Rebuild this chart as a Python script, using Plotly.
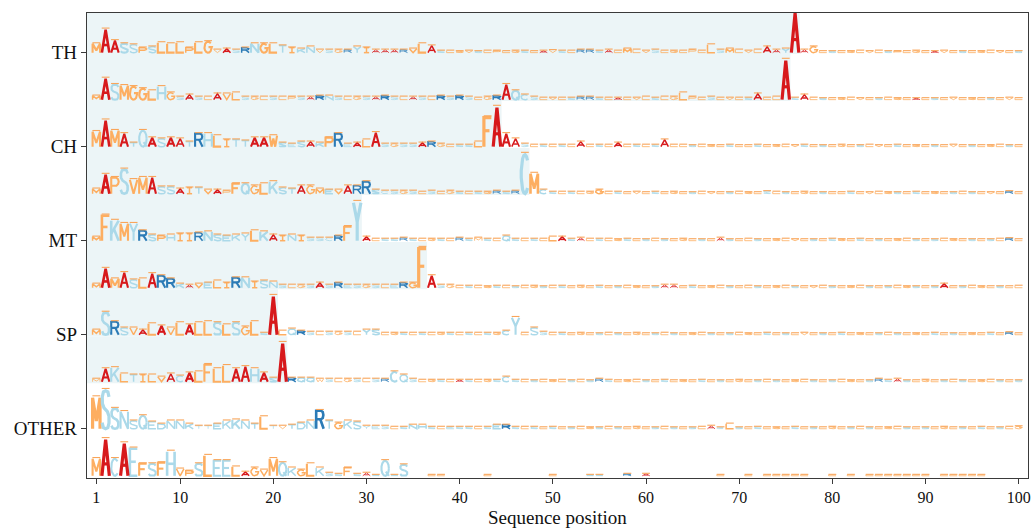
import numpy as np
import plotly.graph_objects as go

# ---------------------------------------------------------------------------
# Data: per-position dominant residue and its information content (bits)
# ---------------------------------------------------------------------------
POSITIONS = list(range(1, 101))
GROUP_LABELS = ["TH", "CH", "MT", "SP", "OTHER"]
GROUP_TICKS = [9, 7, 5, 3, 1]

# last residue of the signal region for each logo row (None = no signal)
CLEAVAGE_SITE = [76, 75, 44, 47, 29, 36, 20, 21, None, None]

SEQ_TH_1 = ("MAASSPSLLL" "PLGVASRNGL" "TIKNVSGRYI" "AAARVLASLG" "VSLPLGSLAV"
            "SLRRSALMLV" "SLGLPLLSML" "VLAAYAAGLS" "LGLVLSPLGL" "AVLSLGLVLS")
BITS_TH_1 = [0.9, 2.3, 1.2, 0.9, 0.8, 0.5, 0.6, 1.0, 0.9, 1.0,
             0.5, 1.0, 1.1, 0.3, 0.4, 0.3, 0.5, 0.9, 0.9, 0.9,
             0.7, 0.5, 0.4, 0.6, 0.3, 0.3, 0.3, 0.3, 0.6, 0.5,
             0.3, 0.3, 0.3, 0.3, 0.4, 0.9, 0.7, 0.2, 0.2, 0.15,
             0.2, 0.15, 0.2, 0.2, 0.15, 0.2, 0.2, 0.15, 0.2, 0.25,
             0.2, 0.2, 0.3, 0.3, 0.2, 0.3, 0.2, 0.4, 0.3, 0.2,
             0.3, 0.2, 0.2, 0.2, 0.3, 0.2, 0.8, 0.3, 0.4, 0.3,
             0.2, 0.3, 0.6, 0.3, 0.4, 3.95, 0.3, 0.6, 0.15, 0.15,
             0.15, 0.15, 0.2, 0.15, 0.2, 0.15, 0.15, 0.15, 0.2, 0.15,
             0.15, 0.2, 0.15, 0.15, 0.15, 0.15, 0.2, 0.15, 0.15, 0.15]

SEQ_TH_2 = ("MASMGGLHGS" "ASLAVLSGLS" "LPSARNSLGS" "ARSLASLRSR" "SLGRAQCSLV"
            "LSRRSLALVL" "SLGLPLSLVL" "SALLASALSL" "GLVLSLGLAL" "SLVLGLSLVL")
BITS_TH_2 = [0.4, 2.1, 1.5, 1.4, 1.3, 1.1, 0.9, 1.3, 0.7, 0.3,
             0.5, 0.3, 0.3, 0.6, 0.6, 0.7, 0.3, 0.3, 0.3, 0.3,
             0.3, 0.3, 0.3, 0.3, 0.4, 0.4, 0.3, 0.3, 0.3, 0.3,
             0.3, 0.4, 0.3, 0.3, 0.3, 0.3, 0.3, 0.4, 0.3, 0.4,
             0.3, 0.2, 0.3, 0.4, 1.5, 0.9, 0.5, 0.3, 0.2, 0.2,
             0.2, 0.2, 0.3, 0.3, 0.2, 0.2, 0.2, 0.2, 0.2, 0.3,
             0.2, 0.3, 0.3, 0.7, 0.3, 0.2, 0.3, 0.2, 0.2, 0.2,
             0.2, 0.6, 0.2, 0.3, 3.9, 0.2, 0.5, 0.2, 0.15, 0.15,
             0.15, 0.2, 0.15, 0.15, 0.15, 0.2, 0.15, 0.15, 0.15, 0.15,
             0.15, 0.15, 0.2, 0.15, 0.15, 0.15, 0.15, 0.15, 0.2, 0.15]

SEQ_CH_1 = ("MAMATQASAA" "TRHLITTAAW" "SESAKPREAL" "ASGSSARGLS" "SLFAAASLSL"
            "SLALSLALSL" "SALLSLGLSL" "LSLGLVSLSL" "GLSLVLSLGL" "SLVLSLGLSL")
BITS_CH_1 = [1.5, 2.6, 1.6, 1.3, 0.4, 1.6, 0.9, 0.8, 0.9, 0.8,
             0.5, 1.3, 1.3, 1.1, 0.7, 0.7, 0.6, 0.9, 0.9, 1.1,
             0.4, 0.3, 0.5, 0.5, 0.4, 0.9, 1.3, 0.3, 0.4, 0.7,
             1.4, 0.3, 0.3, 0.3, 0.3, 0.4, 0.5, 0.3, 0.2, 0.2,
             0.2, 0.5, 2.9, 3.9, 1.3, 0.8, 0.3, 0.2, 0.2, 0.2,
             0.2, 0.2, 0.5, 0.2, 0.2, 0.2, 0.4, 0.2, 0.2, 0.2,
             0.2, 0.7, 0.2, 0.2, 0.15, 0.2, 0.15, 0.15, 0.2, 0.15,
             0.15, 0.2, 0.15, 0.15, 0.2, 0.15, 0.2, 0.15, 0.15, 0.15,
             0.2, 0.15, 0.15, 0.2, 0.15, 0.15, 0.2, 0.15, 0.15, 0.15,
             0.15, 0.15, 0.2, 0.15, 0.15, 0.15, 0.15, 0.2, 0.15, 0.15]

SEQ_CH_2 = ("MAPSVMASSA" "ITVAPFQGLK" "STAGMEVARR" "SCSGSLSLGS" "LSGRSRCMCS"
            "LSLGGLSLVL" "SLGLSLVLSL" "GLSLSLGLSL" "LSLVLGSLSL" "GLSLSLVLRL")
BITS_CH_2 = [0.5, 1.9, 1.6, 2.4, 1.4, 1.6, 1.6, 0.7, 0.7, 0.5,
             0.6, 0.6, 0.4, 0.4, 0.3, 1.0, 1.0, 0.8, 1.0, 1.2,
             0.6, 0.5, 0.8, 0.8, 0.5, 0.4, 0.4, 0.8, 0.8, 1.2,
             0.4, 0.3, 0.3, 0.3, 0.3, 0.2, 0.3, 0.2, 0.3, 0.2,
             0.2, 0.2, 0.2, 0.3, 0.2, 0.3, 3.9, 2.0, 0.4, 0.2,
             0.2, 0.2, 0.2, 0.2, 0.4, 0.2, 0.2, 0.15, 0.2, 0.15,
             0.2, 0.15, 0.2, 0.15, 0.15, 0.2, 0.15, 0.15, 0.15, 0.2,
             0.15, 0.15, 0.25, 0.2, 0.15, 0.15, 0.2, 0.15, 0.15, 0.15,
             0.15, 0.2, 0.15, 0.15, 0.2, 0.15, 0.15, 0.15, 0.2, 0.15,
             0.15, 0.15, 0.15, 0.2, 0.15, 0.15, 0.15, 0.15, 0.25, 0.15]

SEQ_MT_1 = ("MFKMYRSPHI" "IRNSEKYLKA" "INISSCRFYA" "LSSRSLGSLR" "SMSLQSLSLL"
            "ASALSLGSLS" "LSLGLSLASL" "LSLGLVLSLS" "GLSLSLGLSL" "SLGLSLSLRL")
BITS_MT_1 = [0.4, 2.5, 2.0, 1.7, 1.7, 1.0, 0.6, 0.5, 0.6, 0.7,
             0.7, 0.8, 0.9, 0.6, 0.5, 0.6, 0.7, 1.0, 0.9, 0.6,
             0.5, 0.6, 0.5, 0.3, 0.3, 0.3, 0.5, 1.4, 3.8, 0.4,
             0.2, 0.2, 0.2, 0.3, 0.2, 0.2, 0.2, 0.2, 0.2, 0.3,
             0.2, 0.3, 0.2, 0.2, 0.5, 0.2, 0.2, 0.2, 0.2, 0.4,
             0.4, 0.2, 0.3, 0.2, 0.2, 0.2, 0.15, 0.2, 0.15, 0.15,
             0.2, 0.15, 0.15, 0.2, 0.15, 0.15, 0.15, 0.3, 0.15, 0.15,
             0.2, 0.15, 0.15, 0.15, 0.2, 0.15, 0.15, 0.15, 0.15, 0.2,
             0.15, 0.15, 0.2, 0.15, 0.15, 0.15, 0.15, 0.2, 0.15, 0.15,
             0.15, 0.2, 0.15, 0.15, 0.15, 0.15, 0.15, 0.2, 0.25, 0.15]

SEQ_MT_2 = ("MAMASLARRK" "AVELIRNISN" "SLGSASRESG" "SLERGFASGL" "SLGSLSLGSL"
            "SLGLSLSLGL" "SAALSLGLSL" "LSLGLSLVLS" "LGLSLSLGSL" "SALSLGLSLL")
BITS_MT_2 = [0.4, 1.9, 0.9, 1.5, 0.8, 0.9, 1.4, 1.2, 0.9, 0.4,
             0.3, 0.4, 0.5, 0.7, 0.5, 1.0, 1.0, 0.6, 0.7, 0.6,
             0.3, 0.3, 0.3, 0.3, 0.5, 0.3, 0.5, 0.3, 0.3, 0.3,
             0.3, 0.3, 0.3, 0.5, 0.5, 3.9, 1.2, 0.3, 0.3, 0.2,
             0.2, 0.2, 0.15, 0.2, 0.2, 0.15, 0.2, 0.2, 0.15, 0.2,
             0.2, 0.15, 0.2, 0.15, 0.2, 0.15, 0.15, 0.2, 0.15, 0.15,
             0.15, 0.3, 0.3, 0.15, 0.2, 0.15, 0.15, 0.2, 0.15, 0.15,
             0.2, 0.15, 0.15, 0.15, 0.2, 0.15, 0.15, 0.15, 0.2, 0.15,
             0.15, 0.15, 0.2, 0.15, 0.15, 0.15, 0.2, 0.15, 0.15, 0.15,
             0.15, 0.4, 0.15, 0.15, 0.2, 0.15, 0.15, 0.15, 0.15, 0.2]

SEQ_SP_1 = ("MSRSVALAVL" "ALLSLSGLSA" "LQRSLSGSLY" "SLGSLSLGSL" "SLSGCYLSSL"
            "SLGLSLSLGL" "SLSLGLSLSL" "GLSLSLVLSL" "SLGLSLSLGL" "SLSLGLSLRL")
BITS_SP_1 = [0.5, 2.2, 1.3, 0.7, 0.7, 0.5, 1.1, 0.9, 0.7, 1.2,
             1.0, 1.2, 1.3, 1.2, 1.0, 1.2, 0.8, 1.3, 0.2, 3.8,
             0.4, 0.6, 0.4, 0.3, 0.3, 0.3, 0.3, 0.3, 0.3, 0.5,
             0.5, 0.2, 0.2, 0.2, 0.2, 0.2, 0.2, 0.2, 0.2, 0.2,
             0.2, 0.2, 0.2, 0.2, 0.4, 1.7, 0.2, 0.7, 0.3, 0.2,
             0.2, 0.15, 0.2, 0.15, 0.15, 0.2, 0.15, 0.15, 0.2, 0.15,
             0.15, 0.2, 0.15, 0.15, 0.15, 0.2, 0.15, 0.15, 0.15, 0.2,
             0.15, 0.15, 0.2, 0.15, 0.15, 0.15, 0.2, 0.15, 0.15, 0.15,
             0.2, 0.15, 0.15, 0.15, 0.15, 0.2, 0.15, 0.15, 0.15, 0.15,
             0.2, 0.15, 0.15, 0.15, 0.15, 0.15, 0.2, 0.15, 0.25, 0.15]

SEQ_SP_2 = ("MAKLTILVAC" "ALFLLAAHAS" "ARQQWSLGSL" "SRCQSLGSLA" "SLGSCSLSLG"
            "LSLSRSLGLS" "LSLGLSLSLG" "LSLSLGLSLS" "LGLSRSASLG" "LSLSLGLSLS")
BITS_SP_2 = [0.3, 1.3, 1.4, 0.8, 0.7, 0.7, 0.7, 0.5, 0.8, 0.6,
             0.9, 1.0, 1.7, 1.3, 1.6, 1.3, 1.5, 1.3, 0.9, 0.4,
             3.8, 0.4, 0.4, 0.4, 0.3, 0.3, 0.3, 0.3, 0.3, 0.3,
             0.3, 0.3, 1.0, 0.7, 0.3, 0.2, 0.2, 0.2, 0.2, 0.2,
             0.2, 0.2, 0.2, 0.2, 0.5, 0.2, 0.2, 0.15, 0.2, 0.15,
             0.2, 0.15, 0.2, 0.15, 0.3, 0.2, 0.15, 0.15, 0.2, 0.15,
             0.15, 0.2, 0.15, 0.15, 0.15, 0.2, 0.15, 0.15, 0.15, 0.2,
             0.15, 0.15, 0.2, 0.15, 0.15, 0.15, 0.2, 0.15, 0.15, 0.15,
             0.2, 0.15, 0.15, 0.15, 0.3, 0.2, 0.3, 0.15, 0.15, 0.2,
             0.15, 0.15, 0.2, 0.15, 0.15, 0.15, 0.2, 0.15, 0.15, 0.15]

SEQ_OTHER_1 = ("MSSNSQEDNN" "KTTEKKNTLT" "VTDNRTGKSY" "ESLSNHSLES" "SLSERSLSLS"
               "LSLGSLSLGL" "SLSLSLACLS" "LSLGLSLSLG" "LSLSLGLSLS" "LGLSLSLSLG")
BITS_OTHER_1 = [3.1, 3.8, 2.0, 1.7, 0.8, 1.3, 0.7, 0.5, 0.8, 0.8,
                0.5, 0.3, 0.3, 0.5, 0.8, 0.9, 0.8, 0.5, 1.2, 0.3,
                0.3, 0.4, 0.6, 0.8, 1.8, 0.8, 0.6, 0.8, 0.7, 0.3,
                0.3, 0.3, 0.2, 0.2, 0.4, 0.4, 0.2, 0.2, 0.2, 0.2,
                0.2, 0.2, 0.2, 0.4, 0.4, 0.2, 0.2, 0.2, 0.15, 0.2,
                0.15, 0.15, 0.2, 0.15, 0.15, 0.2, 0.15, 0.15, 0.2, 0.15,
                0.15, 0.2, 0.15, 0.15, 0.15, 0.2, 0.3, 0.15, 0.5, 0.15,
                0.15, 0.2, 0.15, 0.15, 0.15, 0.2, 0.15, 0.15, 0.15, 0.2,
                0.15, 0.15, 0.2, 0.15, 0.15, 0.15, 0.2, 0.15, 0.15, 0.15,
                0.15, 0.2, 0.15, 0.15, 0.15, 0.2, 0.15, 0.15, 0.2, 0.25]

# '-' marks positions where no residues are aligned
SEQ_OTHER_2 = ("MACAEFSFHV" "PSLEELAGVM" "QKGLKSSFSA" "SQSS--LL--" "--L------L"
               "---SS--R-A" "-------L--" "L-LLLLL--L" "-L-LLLLLLL" "-LLLLL----")
BITS_OTHER_2 = [1.7, 3.6, 1.7, 3.2, 2.7, 1.2, 1.2, 1.3, 2.4, 0.7,
                0.5, 1.2, 2.0, 1.5, 1.5, 0.9, 0.4, 0.8, 0.6, 1.7,
                1.3, 0.8, 0.6, 1.2, 0.8, 0.3, 0.2, 0.8, 0.2, 0.3,
                0.1, 1.5, 0.1, 1.1, 0, 0, 0.1, 0.1, 0, 0,
                0, 0, 0.1, 0, 0, 0, 0, 0, 0, 0.1,
                0, 0, 0, 0.1, 0.1, 0, 0, 0.2, 0, 0.2,
                0, 0, 0, 0, 0, 0, 0, 0.1, 0, 0,
                0.1, 0, 0.1, 0.1, 0.1, 0.1, 0.1, 0, 0, 0.1,
                0, 0.1, 0, 0.1, 0.1, 0.1, 0.1, 0.1, 0.1, 0.1,
                0, 0.1, 0.1, 0.1, 0.1, 0.1, 0, 0, 0, 0]

LOGO_ROWS = [(SEQ_TH_1, BITS_TH_1), (SEQ_TH_2, BITS_TH_2),
             (SEQ_CH_1, BITS_CH_1), (SEQ_CH_2, BITS_CH_2),
             (SEQ_MT_1, BITS_MT_1), (SEQ_MT_2, BITS_MT_2),
             (SEQ_SP_1, BITS_SP_1), (SEQ_SP_2, BITS_SP_2),
             (SEQ_OTHER_1, BITS_OTHER_1), (SEQ_OTHER_2, BITS_OTHER_2)]

# ---------------------------------------------------------------------------
# Style
# ---------------------------------------------------------------------------
BITS_PER_ROW = 4.7          # vertical extent of one logo row, in bits
ROW_PX = 47.0               # approximate pixel height of one logo row
GLYPH_WIDTH = 0.8           # letter width in sequence-position units
RED, BLUE, ORANGE, LIGHTBLUE = "#d7191c", "#2c7bb6", "#fdae61", "#abd9e9"
CAP_COLOR = "#f9a55a"
SHADE_COLOR = "#ecf5f7"
FONT = "Liberation Serif"

RESIDUE_COLOR = {}
for aa in "A":
    RESIDUE_COLOR[aa] = RED
for aa in "R":
    RESIDUE_COLOR[aa] = BLUE
for aa in "MLIVFWGP":
    RESIDUE_COLOR[aa] = ORANGE
for aa in "STNQYHKEDC":
    RESIDUE_COLOR[aa] = LIGHTBLUE


def arc(cx, cy, rx, ry, a0, a1, n=14):
    t = np.radians(np.linspace(a0, a1, n))
    return list(zip(cx + rx * np.cos(t), cy + ry * np.sin(t)))


# stroke outlines of the residue letters in a unit box
GLYPHS = {
    "A": [[(0, 0), (0.5, 1), (1, 0)], [(0.22, 0.33), (0.78, 0.33)]],
    "R": [[(0, 0), (0, 1), (0.65, 1), (0.88, 0.93), (0.96, 0.77), (0.88, 0.6),
           (0.65, 0.53), (0, 0.53)], [(0.55, 0.53), (1, 0)]],
    "S": [[(0.95, 0.84), (0.8, 0.97), (0.5, 1), (0.2, 0.97), (0.05, 0.84),
           (0.07, 0.66), (0.28, 0.55), (0.74, 0.45), (0.95, 0.33),
           (0.95, 0.15), (0.8, 0.03), (0.5, 0), (0.2, 0.03), (0.03, 0.16)]],
    "L": [[(0, 1), (0, 0), (1, 0)]],
    "M": [[(0, 0), (0, 1), (0.5, 0.25), (1, 1), (1, 0)]],
    "F": [[(0, 0), (0, 1), (1, 1)], [(0, 0.55), (0.75, 0.55)]],
    "I": [[(0.5, 0), (0.5, 1)], [(0.15, 0), (0.85, 0)], [(0.15, 1), (0.85, 1)]],
    "V": [[(0, 1), (0.5, 0), (1, 1)]],
    "G": [arc(0.5, 0.5, 0.5, 0.5, 45, 360) + [(0.55, 0.5)]],
    "C": [arc(0.5, 0.5, 0.5, 0.5, 45, 315)],
    "Q": [arc(0.5, 0.5, 0.5, 0.5, 0, 360), [(0.6, 0.28), (1, 0)]],
    "D": [[(0.45, 0), (0, 0), (0, 1), (0.45, 1)] + arc(0.45, 0.5, 0.55, 0.5, 90, -90)],
    "P": [[(0, 0), (0, 1), (0.7, 1), (0.92, 0.9), (1, 0.75), (0.92, 0.6),
           (0.7, 0.5), (0, 0.5)]],
    "W": [[(0, 1), (0.25, 0), (0.5, 0.75), (0.75, 0), (1, 1)]],
    "T": [[(0, 1), (1, 1)], [(0.5, 1), (0.5, 0)]],
    "N": [[(0, 0), (0, 1), (1, 0), (1, 1)]],
    "Y": [[(0, 1), (0.5, 0.5), (1, 1)], [(0.5, 0.5), (0.5, 0)]],
    "H": [[(0, 0), (0, 1)], [(1, 0), (1, 1)], [(0, 0.5), (1, 0.5)]],
    "K": [[(0, 0), (0, 1)], [(1, 1), (0, 0.35)], [(0.35, 0.6), (1, 0)]],
    "E": [[(1, 1), (0, 1), (0, 0), (1, 0)], [(0, 0.52), (0.8, 0.52)]],
}

# ---------------------------------------------------------------------------
# Build the figure
# ---------------------------------------------------------------------------
fig = go.Figure()
n_rows = len(LOGO_ROWS)
shapes = []
for r, site in enumerate(CLEAVAGE_SITE):
    if site is None:
        continue
    base = n_rows - 1 - r
    shapes.append(dict(type="rect", xref="x", yref="y", layer="below",
                       x0=0, x1=site + 0.5, y0=base - 0.03, y1=base + 0.97,
                       fillcolor=SHADE_COLOR, line=dict(width=0)))

# letters grouped by colour and stroke weight
groups = {}
cap_x, cap_y = [], []
for r, (seq, bits) in enumerate(LOGO_ROWS):
    base = n_rows - 1 - r
    for pos, aa, h in zip(POSITIONS, seq, bits):
        if aa == "-" or h <= 0:
            continue
        hh = h / BITS_PER_ROW
        px_h = hh * ROW_PX
        if px_h < 3:
            weight = 0.8
        elif px_h < 9:
            weight = 1.5
        elif px_h < 18:
            weight = 2.1
        elif px_h < 28:
            weight = 2.6
        else:
            weight = 3.2
        key = (RESIDUE_COLOR[aa], weight)
        gx, gy = groups.setdefault(key, ([], []))
        for stroke in GLYPHS[aa]:
            for u, v in stroke:
                gx.append(pos - GLYPH_WIDTH / 2 + u * GLYPH_WIDTH)
                gy.append(base + v * hh)
            gx.append(None)
            gy.append(None)
        # small error-bar cap just above each column
        top = base + hh + (0.04 + 0.05 * h) / BITS_PER_ROW
        cap_x += [pos - 0.42, pos + 0.42, None]
        cap_y += [top, top, None]

for (color, weight), (gx, gy) in sorted(groups.items(), key=lambda kv: kv[0][1]):
    fig.add_trace(go.Scatter(x=gx, y=gy, mode="lines", hoverinfo="skip",
                             line=dict(color=color, width=weight),
                             showlegend=False))

fig.add_trace(go.Scatter(x=cap_x, y=cap_y, mode="lines", hoverinfo="skip",
                         line=dict(color=CAP_COLOR, width=1.1), showlegend=False))

axis_common = dict(showline=True, mirror=True, linecolor="#3a3a3a", linewidth=1.3,
                   ticks="outside", ticklen=5, tickcolor="#3a3a3a", tickwidth=1.2,
                   showgrid=False, zeroline=False, automargin=False,
                   tickfont=dict(family=FONT, size=16, color="#111"))

fig.update_layout(
    width=1036, height=529,
    margin=dict(l=87, r=8, t=13, b=51),
    paper_bgcolor="white", plot_bgcolor="white",
    shapes=shapes,
    xaxis=dict(range=[0, 101], tickvals=[1, 10, 20, 30, 40, 50, 60, 70, 80, 90, 100],
               **axis_common),
    yaxis=dict(range=[-0.047, 9.843], tickvals=GROUP_TICKS, ticktext=GROUP_LABELS,
               **axis_common),
    annotations=[dict(text="Sequence position", xref="paper", yref="paper",
                      x=0.5, y=-0.085, xanchor="center", yanchor="middle",
                      showarrow=False,
                      font=dict(family=FONT, size=19, color="#111"))],
)
fig.update_yaxes(tickfont=dict(family=FONT, size=19, color="#111"))

fig.write_html("out.html")
